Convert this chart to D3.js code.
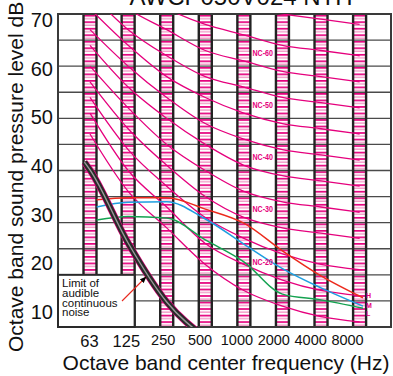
<!DOCTYPE html>
<html>
<head>
<meta charset="utf-8">
<script src="https://cdn.jsdelivr.net/npm/d3@7"></script>
<style>
  html, body { margin: 0; padding: 0; background: #fff; }
  svg { display: block; font-family: "Liberation Sans", Arial, sans-serif; }
</style>
</head>
<body>
<svg id="chart" width="393" height="376"></svg>
<script>
// ---------------- data ----------------
const bandFreqs = [63, 125, 250, 500, 1000, 2000, 4000, 8000];
const bandLabels = ["63", "125", "250", "500", "1000", "2000", "4000", "8000"];
const dbTicks = [10, 20, 30, 40, 50, 60, 70];
const gridDb = [10, 15, 20, 25, 30, 35, 40, 45, 50, 55, 60, 65, 70];

// NC curves (dB at octave band centres 63 ... 8000 Hz)
const nc15 = [47, 36, 29, 22, 17, 14, 12, 11];
const nc20 = [51, 40, 33, 26, 22, 19, 17, 16];
const nc25 = [54, 44, 37, 31, 27, 24, 22, 21];
const nc30 = [57, 48, 41, 35, 31, 29, 28, 27];
const nc35 = [60, 52, 45, 40, 36, 34, 33, 32];
const nc40 = [64, 56, 50, 45, 41, 39, 38, 37];
const nc45 = [67, 60, 54, 49, 46, 44, 43, 42];
const nc50 = [71, 64, 58, 54, 51, 49, 48, 47];
const nc55 = [74, 67, 62, 58, 56, 54, 53, 52];
const nc60 = [77, 71, 67, 63, 61, 59, 58, 57];
const nc65 = [80, 75, 71, 68, 66, 64, 63, 62];
const nc70 = [83, 79, 75, 72, 71, 70, 69, 68];
const ncLabelled = [20, 30, 40, 50, 60];

// measured spectra H / M / L
const measFreqs = [71, 125, 250, 500, 1000, 2000, 4000, 8500];
const seriesH = [34.4, 34.8, 34.8, 32.6, 29.9, 24.6, 19.8, 15.6];
const seriesM = [33.0, 33.9, 34.0, 30.7, 25.9, 21.2, 17.5, 14.0];
const seriesL = [30.5, 31.2, 30.9, 26.7, 22.5, 16.3, 15.2, 13.6];
const seriesNames = ["H", "M", "L"];

// limit of audible continuous noise
const limitFreqs = [57, 63, 125, 250, 500];
const limitDb = [41.6, 40.1, 26.1, 14.8, 8.0];

// ---------------- layout ----------------
const svg = d3.select("#chart");
const plot = { left: 58, right: 391, top: 14, bottom: 327 };
const MAG = "#e5007d";

const x = d3.scaleLog().base(2).domain([63, 8000]).range([90, 359.6]);
const y = d3.scaleLinear().domain([10, 70]).range([plot.bottom, plot.top]);
const yLab = d3.scaleLinear().domain([10, 70]).range([312, 20]);
const xLab = d3.scalePoint().domain(bandLabels).range([89, 347]);
const barW = 13;

const defs = svg.append("defs");
const pat = defs.append("pattern")
  .attr("id", "stripes").attr("patternUnits", "userSpaceOnUse")
  .attr("width", 20).attr("height", 6.52)
  .attr("patternTransform", "translate(0," + (plot.top + 0.8) + ")");
pat.append("rect").attr("x", 0).attr("y", 0).attr("width", 20).attr("height", 1.7).attr("fill", MAG);
pat.append("rect").attr("x", 0).attr("y", 3.26).attr("width", 20).attr("height", 1.3).attr("fill", "#f190c2");

defs.append("clipPath").attr("id", "clip").append("rect")
  .attr("x", plot.left).attr("y", plot.top)
  .attr("width", plot.right - plot.left).attr("height", plot.bottom - plot.top);

// striped band columns
svg.append("g").selectAll("rect").data(bandFreqs).join("rect")
  .attr("x", d => x(d) - barW / 2).attr("y", plot.top)
  .attr("width", barW).attr("height", plot.bottom - plot.top)
  .attr("fill", "url(#stripes)");

// horizontal grid
svg.append("g").selectAll("line").data(gridDb).join("line")
  .attr("x1", plot.left).attr("x2", plot.right)
  .attr("y1", d => y(d)).attr("y2", d => y(d))
  .attr("stroke", "#4a4a4a").attr("stroke-width", 1.4);

// column edges
const edges = svg.append("g");
bandFreqs.forEach(f => {
  [x(f) - barW / 2, x(f) + barW / 2].forEach(px => {
    edges.append("line").attr("x1", px).attr("x2", px)
      .attr("y1", plot.top).attr("y2", plot.bottom)
      .attr("stroke", "#222").attr("stroke-width", 2.4);
  });
});

// frame
svg.append("rect").attr("x", plot.left).attr("y", plot.top)
  .attr("width", plot.right - plot.left).attr("height", plot.bottom - plot.top)
  .attr("fill", "none").attr("stroke", "#3a3a3a").attr("stroke-width", 2);

const curves = svg.append("g").attr("clip-path", "url(#clip)");
const line = d3.line().x(d => x(d[0])).y(d => y(d[1])).curve(d3.curveMonotoneX);

// NC curves
const ncAll = [nc15, nc20, nc25, nc30, nc35, nc40, nc45, nc50, nc55, nc60, nc65, nc70];
ncAll.forEach(vals => {
  curves.append("path").attr("d", line(bandFreqs.map((f, i) => [f, vals[i]])))
    .attr("fill", "none").attr("stroke", MAG).attr("stroke-width", 1.3);
});

// NC labels
svg.append("g").selectAll("text").data(ncLabelled).join("text")
  .attr("x", 252.5).attr("y", d => y(d + 2.6)).attr("dy", "0.35em")
  .attr("textLength", 20.5).attr("lengthAdjust", "spacingAndGlyphs")
  .attr("font-weight", "bold").attr("font-size", 9.5).attr("fill", MAG)
  .text(d => "NC-" + d);

// measured series
const measColors = ["#ec2a1c", "#1e9ee0", "#14a250"];
const measAll = [seriesH, seriesM, seriesL];
measAll.forEach((vals, k) => {
  curves.append("path").attr("d", line(measFreqs.map((f, i) => [f, vals[i]])))
    .attr("fill", "none").attr("stroke", measColors[k]).attr("stroke-width", 1.5);
});
svg.append("g").selectAll("text").data(seriesNames).join("text")
  .attr("x", x(measFreqs[7]) + 3)
  .attr("y", (d, i) => y(measAll[i][7]) + [-2, -1, 5][i])
  .attr("dy", "0.35em")
  .attr("font-size", 7).attr("font-weight", "bold").attr("fill", MAG)
  .text(d => d);

// limit band
const limitPts = limitFreqs.map((f, i) => [f, limitDb[i]]);
const lg = curves.append("g");
lg.append("path").attr("d", line(limitPts)).attr("fill", "none").attr("stroke", MAG).attr("stroke-width", 6.8);
lg.append("path").attr("d", line(limitPts)).attr("fill", "none").attr("stroke", "#2a2a2a").attr("stroke-width", 5.6);
lg.append("path").attr("d", line(limitPts)).attr("fill", "none").attr("stroke", "#9a9a9a").attr("stroke-width", 1.4);

// label box
svg.append("rect").attr("x", plot.left).attr("y", y(20))
  .attr("width", x(125) + barW / 2 - plot.left).attr("height", plot.bottom - y(20))
  .attr("fill", "#fff").attr("stroke", "#2a2a2a").attr("stroke-width", 2);
const boxText = ["Limit of", "audible", "continuous", "noise"];
svg.append("g").selectAll("text").data(boxText).join("text")
  .attr("x", 62).attr("y", (d, i) => 287 + i * 9.8)
  .attr("font-size", 11.5).attr("fill", "#111").text(d => d);

// arrow
defs.append("marker").attr("id", "arrow").attr("viewBox", "0 0 10 10")
  .attr("refX", 9).attr("refY", 5).attr("markerWidth", 6).attr("markerHeight", 6)
  .attr("orient", "auto").append("path").attr("d", "M0,1 L10,5 L0,9 z").attr("fill", "#000");
svg.append("line").attr("x1", 122).attr("y1", 301).attr("x2", 146).attr("y2", 277)
  .attr("stroke", "#e8281e").attr("stroke-width", 1.1).attr("marker-end", "url(#arrow)");

// y tick labels
const yAxis = svg.append("g").attr("transform", "translate(53,0)")
  .call(d3.axisLeft(yLab).tickValues(dbTicks).tickSize(0).tickPadding(0));
yAxis.select(".domain").remove();
yAxis.selectAll("text").attr("font-size", 20).attr("fill", "#111")
  .attr("font-family", "'Liberation Sans', Arial, sans-serif");

// x tick labels
const xAxis = svg.append("g").attr("transform", "translate(0,335)")
  .call(d3.axisBottom(xLab).tickSize(0).tickPadding(0));
xAxis.select(".domain").remove();
xAxis.selectAll("text")
  .attr("font-size", (d, i) => i < 2 ? 16.5 : 14.5).attr("fill", "#111")
  .attr("font-family", "'Liberation Sans', Arial, sans-serif");

// titles
svg.append("text").attr("x", 226).attr("y", 370).attr("text-anchor", "middle")
  .attr("font-size", 21).attr("fill", "#111").text("Octave band center frequency (Hz)");
svg.append("text").attr("transform", "translate(23,352) rotate(-90)")
  .attr("font-size", 21).attr("fill", "#111").text("Octave band sound pressure level dB");
svg.append("text").attr("x", 241).attr("y", 5).attr("text-anchor", "middle")
  .attr("font-size", 24).attr("fill", "#111").text("AWCP050V024 NTH");
</script>
</body>
</html>
